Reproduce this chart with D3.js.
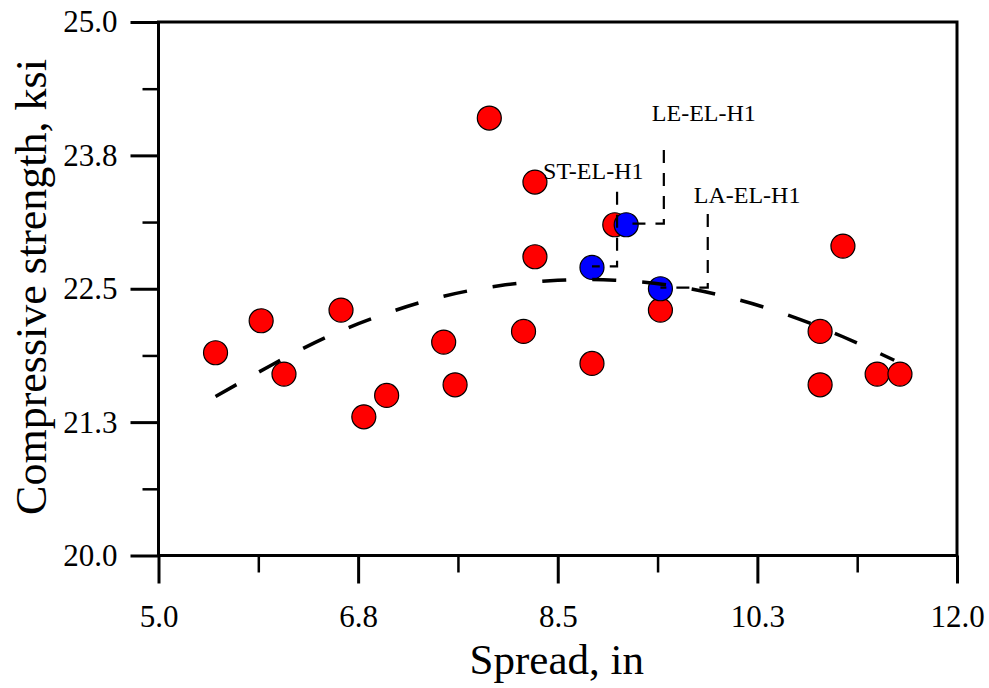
<!DOCTYPE html>
<html>
<head>
<meta charset="utf-8">
<script src="https://cdn.jsdelivr.net/npm/d3@7"></script>
<style>
  html, body { margin: 0; padding: 0; background: #fff; }
  svg { display: block; }
  text { font-family: "Liberation Serif", "Times New Roman", serif; fill: #000; }
</style>
</head>
<body>
<svg id="chart" width="989" height="688"></svg>
<script>
// ---------- data ----------
const redX = [5.5, 5.9, 6.1, 6.6, 6.8, 7.0, 7.5, 7.6, 7.9, 8.2, 8.3, 8.3, 8.8, 9.0, 9.4, 10.8, 10.8, 11.0, 11.3, 11.5];
const redY = [21.9, 22.2, 21.7, 22.3, 21.3, 21.5, 22.0, 21.6, 24.1, 22.1, 23.5, 22.8, 21.8, 23.1, 22.3, 22.1, 21.6, 22.9, 21.7, 21.7];
const blueX = [8.8, 9.1, 9.4];
const blueY = [22.7, 23.1, 22.5];
const blueNames = ["ST-EL-H1", "LE-EL-H1", "LA-EL-H1"];
// fitted trend
const trendX = [5.5, 6.0, 6.5, 7.0, 7.5, 8.0, 8.5, 9.0, 9.5, 10.0, 10.5, 11.0, 11.45];
const trendY = [21.49, 21.79, 22.06, 22.27, 22.43, 22.53, 22.58, 22.58, 22.53, 22.42, 22.26, 22.05, 21.83];
// label anchor (x of leader, y of label/leader top)
const leaderX = [9.02, 9.43, 9.815];
const leaderTopY = [23.41, 23.8, 23.2];
const xTicks = [5, 6.75, 8.5, 10.25, 12];
const xTickLabels = ["5.0", "6.8", "8.5", "10.3", "12.0"];
const xMinor = [5.875, 7.625, 9.375, 11.125];
const yTicks = [20, 21.25, 22.5, 23.75, 25];
const yTickLabels = ["20.0", "21.3", "22.5", "23.8", "25.0"];
const yMinor = [20.625, 21.875, 23.125, 24.375];
const xTitle = "Spread, in";
const yTitle = "Compressive strength, ksi";

// ---------- layout ----------
const L = 158.5, R = 957, T = 22, B = 555.5;
const svg = d3.select("#chart");
svg.append("rect").attr("width", 989).attr("height", 688).attr("fill", "#fff");

const x = d3.scaleLinear().domain([5, 12]).range([L, R]);
const y = d3.scaleLinear().domain([20, 25]).range([B, T]);

// axes
const gx = svg.append("g").attr("transform", `translate(0,${B})`)
  .call(d3.axisBottom(x).tickValues(xTicks).tickSize(28).tickSizeOuter(0).tickPadding(21)
    .tickFormat((d, i) => xTickLabels[i]));
const gxm = svg.append("g").attr("transform", `translate(0,${B})`)
  .call(d3.axisBottom(x).tickValues(xMinor).tickSize(17).tickSizeOuter(0).tickFormat(""));
const gy = svg.append("g").attr("transform", `translate(${L},0)`)
  .call(d3.axisLeft(y).tickValues(yTicks).tickSize(28).tickSizeOuter(0).tickPadding(13)
    .tickFormat((d, i) => yTickLabels[i]));
const gym = svg.append("g").attr("transform", `translate(${L},0)`)
  .call(d3.axisLeft(y).tickValues(yMinor).tickSize(16).tickSizeOuter(0).tickFormat(""));

[gx, gxm, gy, gym].forEach(g => {
  g.select(".domain").remove();
  g.selectAll(".tick line").attr("stroke", "#000").attr("stroke-width", 3);
  g.selectAll(".tick text").attr("font-family", "Liberation Serif").attr("font-size", 31).attr("fill", "#000");
});
gxm.selectAll(".tick line").attr("stroke-width", 2.5);
gym.selectAll(".tick line").attr("stroke-width", 2.5);

// frame
svg.append("rect").attr("x", L).attr("y", T).attr("width", R - L).attr("height", B - T)
  .attr("fill", "none").attr("stroke", "#000").attr("stroke-width", 3);

// titles
svg.append("text").attr("x", (L + R) / 2 - 1).attr("y", 674).attr("text-anchor", "middle")
  .attr("font-size", 43).text(xTitle);
svg.append("text").attr("transform", `translate(46,287) rotate(-90)`).attr("text-anchor", "middle")
  .attr("font-size", 44).text(yTitle);

// points
const red = redX.map((v, i) => ({ x: v, y: redY[i] }));
const blue = blueX.map((v, i) => ({ x: v, y: blueY[i] }));
svg.append("g").selectAll("circle").data(red).join("circle")
  .attr("cx", d => x(d.x)).attr("cy", d => y(d.y)).attr("r", 12)
  .attr("fill", "#ff0000").attr("stroke", "#000").attr("stroke-width", 1.2);
svg.append("g").selectAll("circle").data(blue).join("circle")
  .attr("cx", d => x(d.x)).attr("cy", d => y(d.y)).attr("r", 12)
  .attr("fill", "#0000ff").attr("stroke", "#000").attr("stroke-width", 1.2);

// trend line
const trend = trendX.map((v, i) => [v, trendY[i]]);
svg.append("path").datum(trend)
  .attr("d", d3.line().x(d => x(d[0])).y(d => y(d[1])).curve(d3.curveNatural))
  .attr("fill", "none").attr("stroke", "#000").attr("stroke-width", 3.5)
  .attr("stroke-dasharray", "24,26");

// leaders + labels
const labelDx = [-74, -12, -14];
const labelDy = [-13, -29, -11];
blueNames.forEach((name, i) => {
  const pts = [[leaderX[i], leaderTopY[i]], [leaderX[i], blueY[i] + 0.01], [blueX[i], blueY[i] + 0.01]];
  svg.append("path").datum(pts)
    .attr("d", d3.line().x(d => x(d[0])).y(d => y(d[1])))
    .attr("fill", "none").attr("stroke", "#000").attr("stroke-width", 2.2)
    .attr("stroke-dasharray", "13,10");
  svg.append("text")
    .attr("x", x(leaderX[i]) + labelDx[i]).attr("y", y(leaderTopY[i]) + labelDy[i])
    .attr("font-size", 24).text(name);
});
</script>
</body>
</html>
